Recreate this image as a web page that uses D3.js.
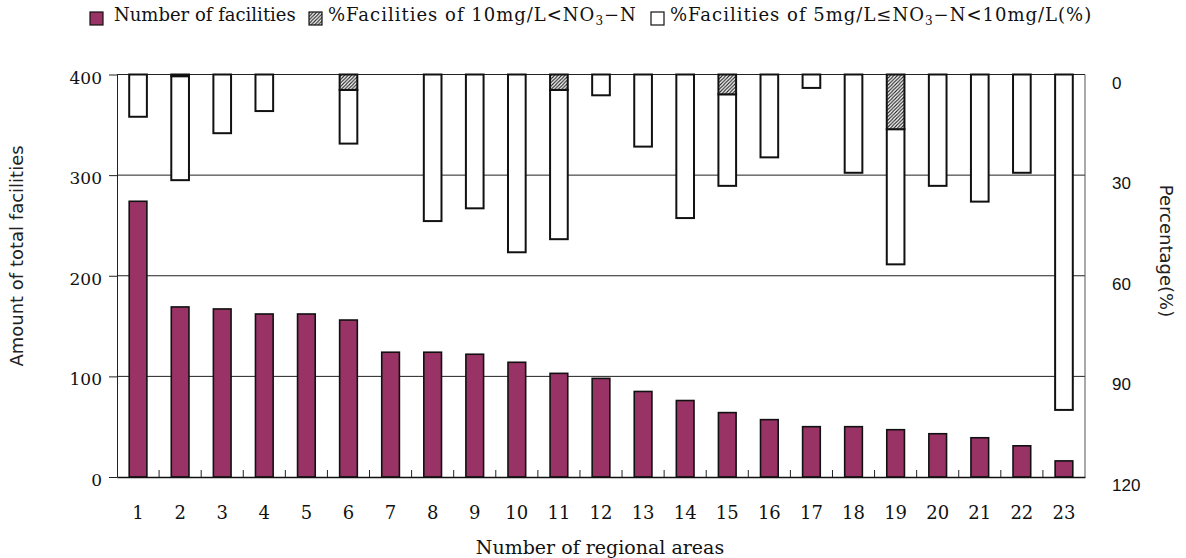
<!DOCTYPE html>
<html>
<head>
<meta charset="utf-8">
<script src="https://cdn.jsdelivr.net/npm/d3@7"></script>
<style>
  body { margin: 0; background: #fff; }
  svg { display: block; }
</style>
</head>
<body>
<svg width="1186" height="558"></svg>
<script>
// regional areas and values
const areas = ["1","2","3","4","5","6","7","8","9","10","11","12","13","14","15","16","17","18","19","20","21","22","23"];
const facilities = [274, 169, 167, 162, 162, 156, 124, 124, 122, 114, 103, 98, 85, 76, 64, 57, 50, 50, 47, 43, 39, 31, 16];
// % facilities with 10mg/L < NO3-N (hatched)
const pctOver10 = [0, 0.5, 0, 0, 0, 4.6, 0, 0, 0, 0, 4.6, 0, 0, 0, 5.9, 0, 0, 0, 16.3, 0, 0, 0, 0];
// % facilities with 5mg/L <= NO3-N < 10mg/L (open)
const pct5to10 = [12.6, 31, 17.5, 10.9, 0, 16, 0, 43.7, 39.9, 53, 44.5, 6.2, 21.5, 42.8, 27.3, 24.7, 4, 29.3, 40.3, 33.2, 37.9, 29.3, 100];
const leftTicks = [0, 100, 200, 300, 400];
const rightTicks = [0, 30, 60, 90, 120];

const serif = "'DejaVu Serif', serif";
const sans = "'DejaVu Sans', sans-serif";

const svg = d3.select("svg");
const mLeft = 117, mRight = 1085, mTop = 74.5, mBottom = 477;

const x = d3.scaleBand().domain(areas).range([mLeft, mRight]);
const barW = x.bandwidth() * 0.42;
const bx = d => x(d) + (x.bandwidth() - barW) / 2;

const yL = d3.scaleLinear().domain([0, 400]).range([mBottom, mTop]);
const yR = d3.scaleLinear().domain([0, 120]).range([mTop, mBottom]);

// hatch pattern
const defs = svg.append("defs");
defs.append("pattern")
    .attr("id", "hatch")
    .attr("patternUnits", "userSpaceOnUse")
    .attr("width", 3.5).attr("height", 3.5)
  .call(p => p.append("rect").attr("width", 3.5).attr("height", 3.5).attr("fill", "#fff"))
  .append("path")
    .attr("d", "M-1,1 l2,-2 M0,3.5 l3.5,-3.5 M2.5,4.5 l2,-2")
    .attr("stroke", "#222")
    .attr("stroke-width", 1.1);

// gridlines
svg.append("g")
    .selectAll("line")
    .data([100, 200, 300, 400])
    .join("line")
    .attr("x1", mLeft).attr("x2", mRight)
    .attr("y1", d => yL(d)).attr("y2", d => yL(d))
    .attr("stroke", "#222")
    .attr("stroke-width", 1);

// right border
svg.append("line")
    .attr("x1", mRight).attr("x2", mRight)
    .attr("y1", mTop).attr("y2", mBottom)
    .attr("stroke", "#555");

// facilities bars
svg.append("g")
    .selectAll("rect")
    .data(areas)
    .join("rect")
    .attr("x", d => bx(d))
    .attr("width", barW)
    .attr("y", (d, i) => yL(facilities[i]))
    .attr("height", (d, i) => yL(0) - yL(facilities[i]))
    .attr("fill", "#993366")
    .attr("stroke", "#111")
    .attr("stroke-width", 1.6);

// percentage bars hanging from the top (stacked)
svg.append("g")
    .selectAll("rect")
    .data(areas.filter((d, i) => pct5to10[i] > 0))
    .join("rect")
    .attr("x", d => bx(d))
    .attr("width", barW)
    .attr("y", d => yR(pctOver10[areas.indexOf(d)]))
    .attr("height", d => {
        const i = areas.indexOf(d);
        return yR(pctOver10[i] + pct5to10[i]) - yR(pctOver10[i]);
    })
    .attr("fill", "#fff")
    .attr("stroke", "#111")
    .attr("stroke-width", 2);

svg.append("g")
    .selectAll("rect")
    .data(areas.filter((d, i) => pctOver10[i] > 0))
    .join("rect")
    .attr("x", d => bx(d))
    .attr("width", barW)
    .attr("y", yR(0))
    .attr("height", d => yR(pctOver10[areas.indexOf(d)]) - yR(0))
    .attr("fill", "url(#hatch)")
    .attr("stroke", "#111")
    .attr("stroke-width", 2);

// left axis
const gL = svg.append("g")
    .attr("transform", `translate(${mLeft},0)`)
    .call(d3.axisLeft(yL).tickValues(leftTicks).tickSize(8).tickPadding(7).tickSizeOuter(0));
gL.select(".domain").attr("stroke", "#222");
gL.selectAll(".tick line").attr("stroke", "#222");
gL.selectAll(".tick text")
    .attr("font-family", serif).attr("font-size", 17).attr("fill", "#111")
    .attr("dy", "0.5em");

// right axis labels
const gR = svg.append("g")
    .attr("transform", `translate(${mRight},0)`)
    .call(d3.axisRight(yR).tickValues(rightTicks).tickSize(0).tickPadding(27));
gR.select(".domain").remove();
gR.selectAll(".tick text")
    .attr("font-family", "'Liberation Sans', Arial, sans-serif").attr("font-size", 17).attr("fill", "#111")
    .attr("dy", "0.8em");

// bottom axis
const gB = svg.append("g")
    .attr("transform", `translate(0,${mBottom})`)
    .call(d3.axisBottom(x).tickSize(0).tickPadding(29));
gB.select(".domain").attr("stroke", "#111").attr("stroke-width", 1.5);
gB.selectAll(".tick text")
    .attr("font-family", serif).attr("font-size", 18).attr("fill", "#111");

// inner boundary ticks between categories
svg.append("g")
    .selectAll("line")
    .data(areas.slice(1))
    .join("line")
    .attr("x1", d => x(d)).attr("x2", d => x(d))
    .attr("y1", mBottom).attr("y2", mBottom - 7)
    .attr("stroke", "#222");

// axis titles
svg.append("text")
    .attr("x", (mLeft + mRight) / 2 - 1)
    .attr("y", 554)
    .attr("text-anchor", "middle")
    .attr("font-family", serif).attr("font-size", 19).attr("fill", "#111")
    .text("Number of regional areas");

svg.append("text")
    .attr("transform", "translate(23,256) rotate(-90)")
    .attr("text-anchor", "middle")
    .attr("font-family", sans).attr("font-size", 18).attr("fill", "#222")
    .text("Amount of total facilities");

svg.append("text")
    .attr("transform", "translate(1160,251) rotate(90)")
    .attr("text-anchor", "middle")
    .attr("font-family", sans).attr("font-size", 18).attr("fill", "#222")
    .text("Percentage(%)");

// legend
const legend = svg.append("g").attr("font-family", serif).attr("font-size", 18).attr("fill", "#111");
const legendItems = [
    { x: 90, tx: 24, spacing: 0, fill: "#993366", parts: [["Number of facilities"]] },
    { x: 309, tx: 19, spacing: 1, fill: "url(#hatch)", parts: [["%Facilities of 10mg/L<NO"], ["3", "sub"], ["\u2212N"]] },
    { x: 651, tx: 19, spacing: 1, fill: "#fff", parts: [["%Facilities of 5mg/L\u2264NO"], ["3", "sub"], ["\u2212N<10mg/L(%)"]] }
];
legendItems.forEach(item => {
    legend.append("rect")
        .attr("x", item.x).attr("y", 12).attr("width", 13).attr("height", 13)
        .attr("fill", item.fill).attr("stroke", "#111").attr("stroke-width", 1.2);
    const t = legend.append("text")
        .attr("x", item.x + item.tx).attr("y", 25)
        .attr("letter-spacing", item.spacing);
    item.parts.forEach(([s, kind]) => {
        if (kind === "sub") t.append("tspan").attr("font-size", 12).attr("dy", 4).text(s);
        else t.append("tspan").attr("dy", t.selectAll("tspan").size() ? -4 : 0).text(s);
    });
});
</script>
</body>
</html>
